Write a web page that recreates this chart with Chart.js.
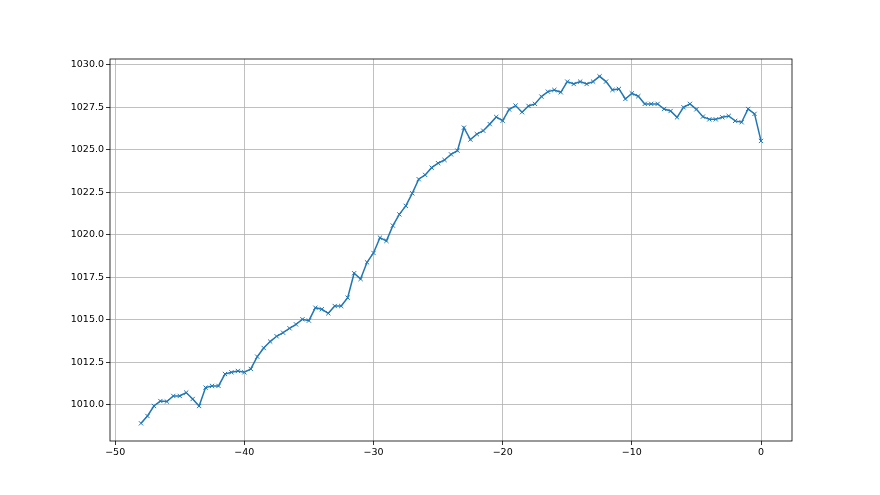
<!DOCTYPE html>
<html>
<head>
<meta charset="utf-8">
<script src="https://cdn.jsdelivr.net/npm/chart.js@4/dist/chart.umd.min.js"></script>
<style>
  body { margin: 0; background: #fff; }
  canvas { display: block; }
</style>
</head>
<body>
<canvas id="myChart" width="880" height="495"></canvas>
<script>
// data block
const hours = [
    -48, -47.5, -47, -46.5, -46, -45.5, -45, -44.5, -44, -43.5,
    -43, -42.5, -42, -41.5, -41, -40.5, -40, -39.5, -39, -38.5,
    -38, -37.5, -37, -36.5, -36, -35.5, -35, -34.5, -34, -33.5,
    -33, -32.5, -32, -31.5, -31, -30.5, -30, -29.5, -29, -28.5,
    -28, -27.5, -27, -26.5, -26, -25.5, -25, -24.5, -24, -23.5,
    -23, -22.5, -22, -21.5, -21, -20.5, -20, -19.5, -19, -18.5,
    -18, -17.5, -17, -16.5, -16, -15.5, -15, -14.5, -14, -13.5,
    -13, -12.5, -12, -11.5, -11, -10.5, -10, -9.5, -9, -8.5,
    -8, -7.5, -7, -6.5, -6, -5.5, -5, -4.5, -4, -3.5,
    -3, -2.5, -2, -1.5, -1, -0.5, 0
];
const pressure = [
    1008.92, 1009.35, 1009.94, 1010.23, 1010.2, 1010.53, 1010.53, 1010.73, 1010.35, 1009.94,
    1011.02, 1011.12, 1011.12, 1011.82, 1011.92, 1012.0, 1011.92, 1012.12, 1012.84, 1013.35,
    1013.73, 1014.04, 1014.25, 1014.51, 1014.74, 1015.04, 1014.96, 1015.72, 1015.63, 1015.39,
    1015.82, 1015.82, 1016.31, 1017.75, 1017.41, 1018.39, 1018.94, 1019.84, 1019.65, 1020.55,
    1021.21, 1021.71, 1022.45, 1023.28, 1023.53, 1023.96, 1024.22, 1024.41, 1024.74, 1024.96,
    1026.31, 1025.61, 1025.93, 1026.13, 1026.52, 1026.94, 1026.72, 1027.38, 1027.61, 1027.22,
    1027.59, 1027.71, 1028.14, 1028.43, 1028.53, 1028.39, 1029.02, 1028.88, 1029.02, 1028.88,
    1029.02, 1029.33, 1029.02, 1028.53, 1028.59, 1028.0, 1028.33, 1028.16, 1027.71, 1027.71,
    1027.71, 1027.41, 1027.29, 1026.92, 1027.51, 1027.71, 1027.39, 1026.96, 1026.8, 1026.8,
    1026.92, 1027.0, 1026.71, 1026.63, 1027.41, 1027.12, 1025.53
];
const xTicks = [-50, -40, -30, -20, -10, 0];
const yTicks = [1010, 1012.5, 1015, 1017.5, 1020, 1022.5, 1025, 1027.5, 1030];

const points = hours.map((h, i) => ({ x: h, y: pressure[i] }));

// white background + full axes frame
const frame = {
    id: 'frame',
    beforeDraw(chart) {
        const { ctx } = chart;
        ctx.save();
        ctx.fillStyle = '#ffffff';
        ctx.fillRect(0, 0, chart.width, chart.height);
        ctx.restore();
    },
    afterDraw(chart) {
        const { ctx, chartArea: { left, top, right, bottom } } = chart;
        ctx.save();
        ctx.strokeStyle = '#000000';
        ctx.lineWidth = 0.8;
        ctx.strokeRect(left, top, right - left, bottom - top);
        ctx.restore();
    }
};

const tickFont = { family: 'DejaVu Sans', size: 9.5 };
const minus = v => String(v).replace('-', '\u2212');

const myChart = new Chart(document.getElementById('myChart'), {
    type: 'scatter',
    data: {
        datasets: [{
            data: points,
            showLine: true,
            borderColor: '#1f77b4',
            backgroundColor: '#1f77b4',
            borderWidth: 1.5,
            pointStyle: 'crossRot',
            pointRadius: 3,
            pointBorderWidth: 1,
            pointHoverRadius: 3,
            tension: 0
        }]
    },
    options: {
        responsive: false,
        animation: false,
        events: [],
        layout: { padding: { left: 0, top: 59, right: 88, bottom: 0 } },
        scales: {
            x: {
                type: 'linear',
                min: -50.4,
                max: 2.4,
                afterBuildTicks(scale) {
                    scale.ticks = xTicks.map(v => ({ value: v }));
                },
                afterFit(scale) { scale.height = 54; },
                border: { display: false },
                grid: {
                    color: '#b0b0b0',
                    lineWidth: 0.8,
                    tickColor: '#000000',
                    tickLength: 4,
                    tickWidth: 0.8
                },
                ticks: {
                    font: tickFont,
                    color: '#000000',
                    padding: 2,
                    maxRotation: 0,
                    callback: v => minus(v)
                }
            },
            y: {
                type: 'linear',
                min: 1007.88,
                max: 1030.35,
                afterBuildTicks(scale) {
                    scale.ticks = yTicks.map(v => ({ value: v }));
                },
                afterFit(scale) { scale.width = 110; },
                border: { display: false },
                grid: {
                    color: '#b0b0b0',
                    lineWidth: 0.8,
                    tickColor: '#000000',
                    tickLength: 4,
                    tickWidth: 0.8
                },
                ticks: {
                    font: tickFont,
                    color: '#000000',
                    padding: 2,
                    callback: v => Number(v).toFixed(1)
                }
            }
        },
        plugins: {
            legend: { display: false },
            tooltip: { enabled: false }
        }
    },
    plugins: [frame]
});
</script>
</body>
</html>
